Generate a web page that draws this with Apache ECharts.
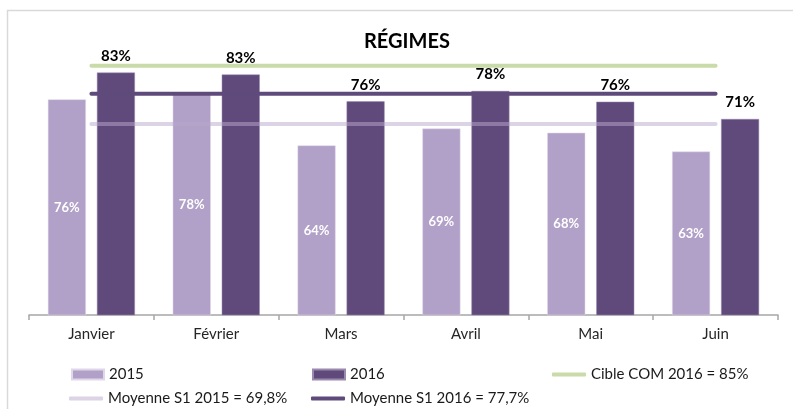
<!DOCTYPE html>
<html>
<head>
<meta charset="utf-8">
<script src="https://cdn.jsdelivr.net/npm/echarts@6/dist/echarts.min.js"></script>
<style>html,body{margin:0;padding:0;background:#fff}#c{width:793px;height:409px}</style>
</head>
<body>
<div id="c"></div>
<script>
const categories = ['Janvier', 'Février', 'Mars', 'Avril', 'Mai', 'Juin'];
const values2015 = [76.2, 77.6, 64.2, 68.6, 67.5, 62.6];
const values2016 = [83.2, 82.7, 75.7, 78.4, 75.6, 71.1];
const cible2016 = [85, 85, 85, 85, 85, 85];
const moyenne2015 = [69.8, 69.8, 69.8, 69.8, 69.8, 69.8];
const moyenne2016 = [77.7, 77.7, 77.7, 77.7, 77.7, 77.7];
const seriesNames = ['2015', '2016', 'Cible COM 2016 = 85%', 'Moyenne S1 2015 = 69,8%', 'Moyenne S1 2016 = 77,7%'];

const FONT = 'Lato, "Liberation Sans", sans-serif';
const chart = echarts.init(document.getElementById('c'), null, {renderer: 'canvas'});

function legendAt(name, left, top, isLine) {
  return {
    data: [name], left: left, top: top, orient: 'horizontal',
    icon: isLine ? 'roundRect' : 'rect',
    itemWidth: isLine ? 34 : 32, itemHeight: isLine ? 4 : 10,
    textStyle: {fontFamily: FONT, fontSize: 15, color: '#1a1a1a'},
    padding: 0, selectedMode: false
  };
}

chart.setOption({
  animation: false,
  backgroundColor: '#fff',
  title: {
    text: 'RÉGIMES', left: 359, top: 27,
    textStyle: {fontFamily: FONT, fontSize: 20, fontWeight: 'bold', color: '#000'}
  },
  graphic: [{
    type: 'rect', shape: {x: 7.5, y: 10.5, width: 800, height: 420},
    style: {fill: 'none', stroke: '#d9d9d9', lineWidth: 1.5}, silent: true
  }],
  legend: [
    legendAt(seriesNames[0], 71, 367, false),
    legendAt(seriesNames[1], 312, 367, false),
    legendAt(seriesNames[2], 552, 367, true),
    legendAt(seriesNames[3], 69, 391, true),
    legendAt(seriesNames[4], 311, 391, true)
  ],
  grid: {left: 29, right: 15, top: 46.5, bottom: 94, containLabel: false},
  xAxis: {
    type: 'category', data: categories,
    axisLine: {lineStyle: {color: '#a6a6a6', width: 1.5}},
    axisTick: {show: true, length: 5, lineStyle: {color: '#a6a6a6', width: 1.5}},
    axisLabel: {fontFamily: FONT, fontSize: 15, color: '#262626', margin: 12}
  },
  yAxis: {type: 'value', min: 20, max: 90, show: false, splitLine: {show: false}},
  series: [
    {
      name: seriesNames[0], type: 'bar', data: values2015, barWidth: 38, barGap: '29%',
      itemStyle: {color: '#b1a0c7', borderColor: '#e0d8ea', borderWidth: 0.5},
      label: {show: true, position: 'inside', color: '#fff', fontFamily: FONT, fontSize: 13, fontWeight: 'bold',
        formatter: p => Math.round(p.value) + '%'}
    },
    {
      name: seriesNames[1], type: 'bar', data: values2016, barWidth: 38,
      itemStyle: {color: '#604a7b', borderColor: '#9a8aae', borderWidth: 0.5},
      label: {show: true, position: 'top', distance: 9, color: '#000', fontFamily: FONT, fontSize: 15, fontWeight: 'bold',
        formatter: p => Math.round(p.value) + '%'}
    },
    {
      name: seriesNames[2], type: 'line', data: cible2016, symbol: 'none', z: 5,
      itemStyle: {color: '#c9dba9'},
      lineStyle: {color: '#c9dba9', width: 4, cap: 'round'}
    },
    {
      name: seriesNames[3], type: 'line', data: moyenne2015, symbol: 'none', z: 5,
      itemStyle: {color: 'rgba(185,167,205,0.5)'},
      lineStyle: {color: 'rgba(185,167,205,0.5)', width: 4, cap: 'round'}
    },
    {
      name: seriesNames[4], type: 'line', data: moyenne2016, symbol: 'none', z: 5,
      itemStyle: {color: '#5f4b7b'},
      lineStyle: {color: '#5f4b7b', width: 4, cap: 'round'}
    }
  ]
});
</script>
</body>
</html>
